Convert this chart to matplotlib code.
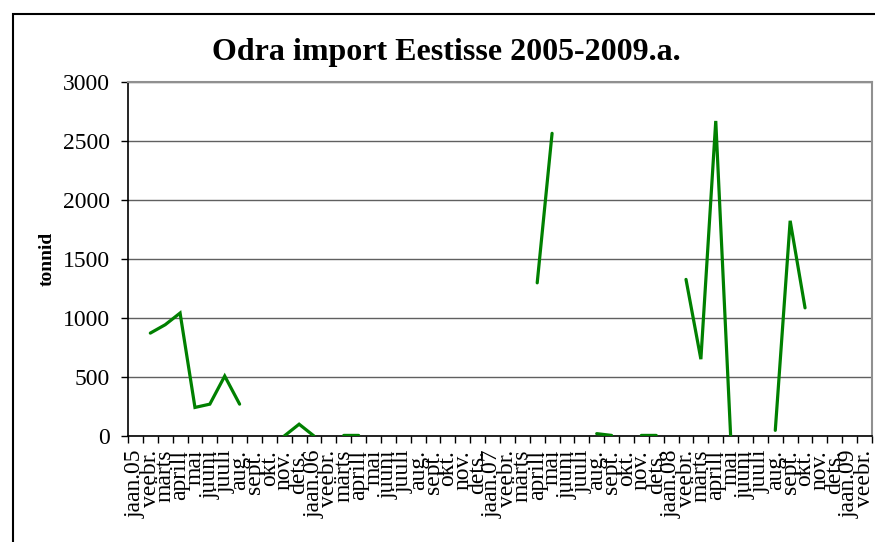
import numpy as np
import matplotlib
matplotlib.use('Agg')
import matplotlib.pyplot as plt
from matplotlib.patches import Rectangle

plt.rcParams['font.family'] = ['Liberation Serif', 'DejaVu Serif']

# Kuud (jaan.05 ... veebr.09)
months = ['jaan.', 'veebr.', 'märts', 'aprill', 'mai', 'juuni', 'juuli',
          'aug.', 'sept.', 'okt.', 'nov.', 'dets.']
labels = []
for year in ['05', '06', '07', '08']:
    labels += [months[0] + year] + months[1:]
labels += ['jaan.09', 'veebr.']

nan = np.nan
# import, tonnid (puuduvad kuud = nan)
values_2005 = [nan, 872, 943, 1042, 242, 270, 508, 270, nan, nan, 0, 100]
values_2006 = [0, nan, 5, 5, nan, nan, nan, nan, nan, nan, nan, nan]
values_2007 = [nan, nan, nan, 1298, 2565, nan, nan, 20, 5, nan, 5, 5]
values_2008 = [nan, 1327, 651, 2670, 0, nan, nan, 48, 1824, 1086, nan, nan]
values_2009 = [nan, nan]
values = values_2005 + values_2006 + values_2007 + values_2008 + values_2009

fig = plt.figure(figsize=(8.75, 5.42), dpi=100)
ax = fig.add_axes([128 / 875, 106 / 542, 744 / 875, 354 / 542])

x = np.arange(len(labels))
ax.plot(x, values, color='#008000', lw=2.3, solid_capstyle='round',
        solid_joinstyle='miter', zorder=3)

ax.set_xlim(-0.5, len(labels) - 0.5)
ax.set_ylim(0, 3000)
ax.set_yticks(range(0, 3001, 500))
ax.yaxis.grid(True, color='#606060', lw=1)
ax.set_axisbelow(True)

ax.set_xticks(x)
ax.set_xticklabels(labels, rotation=90, fontsize=17)
ax.set_xticks(np.arange(-0.5, len(labels)), minor=True)
ax.tick_params(axis='x', which='major', length=0, pad=10)
ax.tick_params(axis='x', which='minor', length=5, width=1, direction='out')
ax.tick_params(axis='y', length=5, width=1, direction='out', labelsize=17,
               pad=8)

ax.set_ylabel('tonnid', fontsize=14, fontweight='bold', labelpad=5)

for side in ['top', 'right']:
    ax.spines[side].set_color('#909090')
    ax.spines[side].set_linewidth(1.5)
for side in ['left', 'bottom']:
    ax.spines[side].set_linewidth(1.2)

fig.text(0.51, 1 - 60 / 542, 'Odra import Eestisse 2005-2009.a.',
         ha='center', va='baseline', fontsize=23, fontweight='bold')

# raam
fig.patches.append(Rectangle((13 / 875, -0.1), 1.2, 1.1 - 14 / 542,
                             transform=fig.transFigure, fill=False,
                             edgecolor='black', lw=1.5))

fig.savefig('out.png', dpi=100)
